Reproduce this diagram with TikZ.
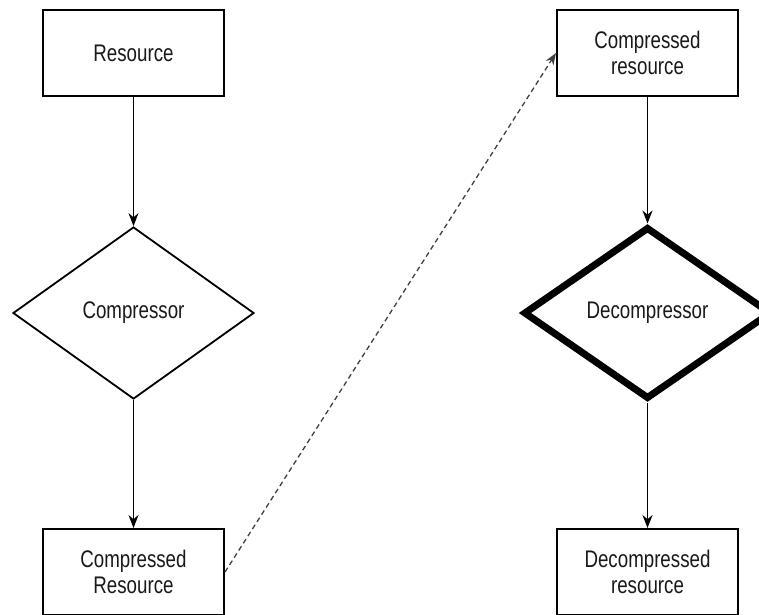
\documentclass[tikz,border=0pt]{standalone}
\usepackage{fontspec}
\setmainfont[FakeStretch=0.78]{Liberation Sans}
\usetikzlibrary{shapes.geometric,arrows.meta}
\begin{document}
\begin{tikzpicture}[x=1pt,y=-1pt,
  every node/.style={font=\fontsize{24}{26}\selectfont, text=black!90, align=center, inner sep=0pt},
  stepbox/.style={draw, line width=2pt, minimum width=181pt, minimum height=86pt},
  decision/.style={draw, diamond, line width=1.8pt, minimum width=241pt, minimum height=172pt},
  flow/.style={line width=1.6pt, -{Stealth[length=13pt,width=10pt]}},
  hop/.style={line width=1.3pt, black!75, dash pattern=on 5pt off 3.5pt, -{Stealth[length=12pt,width=9pt]}}]
\useasboundingbox (0,0) rectangle (759,614);
\clip (0,0) rectangle (759,614);

% compression side
\node[stepbox] (res) at (133.5,53) {Resource};
\node[decision] (comp) at (133.5,313) {Compressor};
\node[stepbox] (cres) at (133.5,572) {Compressed\\Resource};

% decompression side
\node[stepbox] (cres2) at (647.5,53) {Compressed\\resource};
\node[decision, line width=7pt, minimum width=248pt, minimum height=172pt] (decomp) at (647.5,313) {Decompressor};
\node[stepbox] (dres) at (647.5,572) {Decompressed\\resource};

\draw[flow] (res.south) -- (comp.north);
\draw[flow] (comp.south) -- (cres.north);
\draw[flow] (cres2.south) -- (decomp.north);
\draw[flow] (decomp.south) -- (dres.north);
\draw[hop] (cres.east) -- (cres2.west);
\end{tikzpicture}
\end{document}
